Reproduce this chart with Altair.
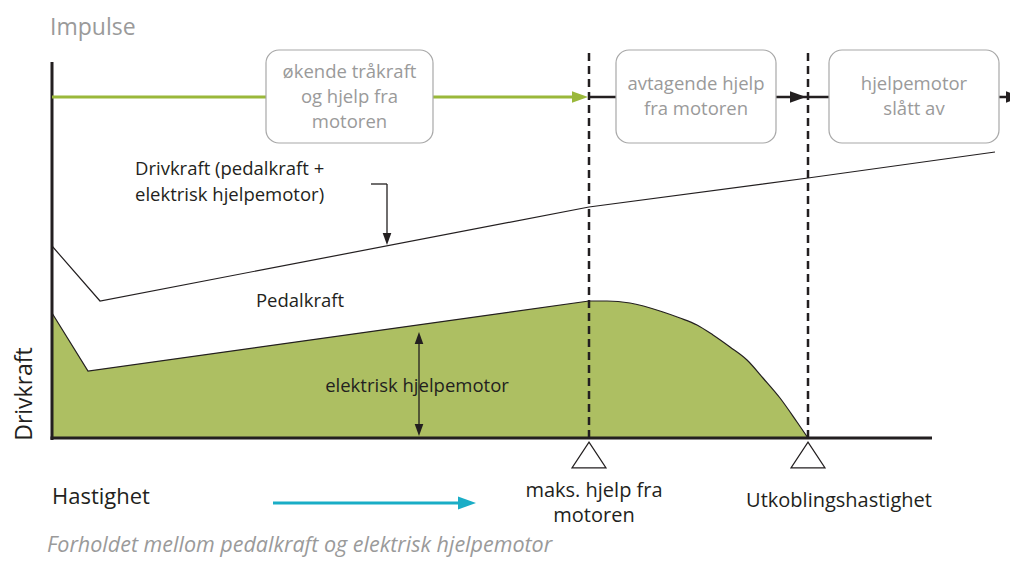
import altair as alt
import pandas as pd
import math

# ---------------- data (diagram units: speed along x, drive force along y) ----------------
# Total drive force (pedal force + electric assist motor)
drive_speed = [0, 48, 537, 756, 943]
drive_force = [192, 137, 231, 260, 286]

# Pedal force boundary = top of the electric assist share (green area)
pedal_speed_lin = [0, 36, 537]
pedal_force_lin = [125, 67, 137]
pedal_speed_curve = [537, 555, 578, 611, 628, 645, 661, 678, 695, 711, 728, 745, 756]
pedal_force_curve = [137, 137, 135, 126, 120, 113, 103, 91, 78, 60, 40, 16, 0]

# Key speeds: max motor assist, cut-off speed
key_speeds = [537, 756]
key_labels = [["maks. hjelp fra", "motoren"], ["Utkoblingshastighet"]]

# Impulse phases
phase_labels = [
    ["økende tråkraft", "og hjelp fra", "motoren"],
    ["avtagende hjelp", "fra motoren"],
    ["hjelpemotor", "slått av"],
]
phase_x = [(214, 381), (564, 724), (777, 947)]

# ---------------- styling ----------------
W, H = 1002, 549
XD = [-44, W - 44]
YD = [-119, 430]
FONT = "Open Sans"
BLACK = "#231f20"
GRAY = "#9a9a9a"
GREEN_FILL = "#adbf62"
GREEN_LINE = "#9ab83a"
CYAN = "#1aadc6"

def X(f="x"):
    return alt.X(f"{f}:Q", scale=alt.Scale(domain=XD, nice=False, zero=False), axis=None)

def Y(f="y"):
    return alt.Y(f"{f}:Q", scale=alt.Scale(domain=YD, nice=False, zero=False), axis=None)

layers = []

# green area (electric assist share)
lin_df = pd.DataFrame({"x": pedal_speed_lin, "y": pedal_force_lin})
cur_df = pd.DataFrame({"x": pedal_speed_curve, "y": pedal_force_curve})
layers.append(alt.Chart(lin_df).mark_area(color=GREEN_FILL, opacity=1).encode(
    x=X(), y=Y(), y2=alt.datum(0)))
layers.append(alt.Chart(cur_df).mark_area(color=GREEN_FILL, opacity=1, interpolate="monotone").encode(
    x=X(), y=Y(), y2=alt.datum(0)))
layers.append(alt.Chart(lin_df).mark_line(color=BLACK, strokeWidth=1.2).encode(x=X(), y=Y()))
layers.append(alt.Chart(cur_df).mark_line(color=BLACK, strokeWidth=1.2, interpolate="monotone").encode(
    x=X(), y=Y()))

# total drive force line
drive_df = pd.DataFrame({"x": drive_speed, "y": drive_force})
layers.append(alt.Chart(drive_df).mark_line(color=BLACK, strokeWidth=1.2).encode(x=X(), y=Y()))

# segments
IMP_Y = 341
segs = pd.DataFrame([
    # axes
    dict(x1=0, y1=-2, x2=0, y2=376, c=BLACK, w=3),
    dict(x1=-1.5, y1=0, x2=880, y2=0, c=BLACK, w=3),
    # impulse line
    dict(x1=0, y1=IMP_Y, x2=520, y2=IMP_Y, c=GREEN_LINE, w=3),
    dict(x1=key_speeds[0], y1=IMP_Y, x2=966, y2=IMP_Y, c=BLACK, w=2.5),
    # leader arrow for drive force
    dict(x1=319, y1=254, x2=335, y2=254, c=BLACK, w=1.3),
    dict(x1=335, y1=254, x2=335, y2=200, c=BLACK, w=1.3),
    # double arrow for electric assist
    dict(x1=367, y1=100, x2=367, y2=8, c=BLACK, w=1.3),
    # speed arrow
    dict(x1=221, y1=-65, x2=412, y2=-65, c=CYAN, w=3),
])
layers.append(alt.Chart(segs).mark_rule().encode(
    x=X("x1"), y=Y("y1"), x2="x2:Q", y2="y2:Q",
    color=alt.Color("c:N", scale=None),
    strokeWidth=alt.StrokeWidth("w:Q", scale=None)))

# dashed lines at key speeds
dash_df = pd.DataFrame({"x": key_speeds, "y1": [0, 0], "y2": [388, 388]})
layers.append(alt.Chart(dash_df).mark_rule(color=BLACK, strokeWidth=2.5, strokeDash=[8, 5]).encode(
    x=X(), y=Y("y1"), y2="y2:Q"))

# arrowheads (tip positions, direction angle, half length, color)
HEAD = "M0,-1L0.72,1L-0.72,1Z"
heads = [
    dict(tx=536, ty=IMP_Y, a=90, s=8, c=GREEN_LINE),
    dict(tx=754, ty=IMP_Y, a=90, s=8, c=BLACK),
    dict(tx=970, ty=IMP_Y, a=90, s=8, c=BLACK),
    dict(tx=335, ty=193, a=180, s=6, c=BLACK),
    dict(tx=367, ty=106, a=0, s=6, c=BLACK),
    dict(tx=367, ty=2, a=180, s=6, c=BLACK),
    dict(tx=424, ty=-65, a=90, s=9, c=CYAN),
]
rows = []
for h in heads:
    rad = math.radians(h["a"])
    dx, dy = math.sin(rad), math.cos(rad)
    rows.append(dict(x=h["tx"] - dx * h["s"], y=h["ty"] - dy * h["s"],
                     a=h["a"], size=(2 * h["s"]) ** 2, c=h["c"]))
heads_df = pd.DataFrame(rows)
layers.append(alt.Chart(heads_df).mark_point(shape=HEAD, filled=True, opacity=1).encode(
    x=X(), y=Y(), angle=alt.Angle("a:Q", scale=None),
    size=alt.Size("size:Q", scale=None), color=alt.Color("c:N", scale=None)))

# triangles under the axis at key speeds
tri_df = pd.DataFrame({"x": key_speeds, "y": [-17, -17]})
layers.append(alt.Chart(tri_df).mark_point(
    shape="M0,-0.76L1,0.76L-1,0.76Z", size=1156, filled=True, fill="white",
    stroke=BLACK, strokeWidth=1.2, opacity=1).encode(x=X(), y=Y()))

# phase boxes
box_df = pd.DataFrame({"x1": [p[0] for p in phase_x], "x2": [p[1] for p in phase_x],
                       "y1": [295] * 3, "y2": [388] * 3})
layers.append(alt.Chart(box_df).mark_rect(fill="white", stroke="#a8a8a8", strokeWidth=1.2,
                                          cornerRadius=13).encode(
    x=X("x1"), x2="x2:Q", y=Y("y1"), y2="y2:Q"))

# phase texts
ptxt = []
for (a, b), lines in zip(phase_x, phase_labels):
    n = len(lines)
    cy = 341.5
    for i, t in enumerate(lines):
        ptxt.append(dict(x=(a + b) / 2, y=cy + (n - 1) / 2 * 25 - i * 25, t=t))
layers.append(alt.Chart(pd.DataFrame(ptxt)).mark_text(
    font=FONT, fontSize=18.5, color=GRAY, baseline="middle", align="center").encode(
    x=X(), y=Y(), text="t:N"))

# key speed labels
ktxt = []
for sx, lines in zip(key_speeds, key_labels):
    if len(lines) == 2:
        ktxt += [dict(x=sx + 5, y=-53, t=lines[0]), dict(x=sx + 5, y=-78, t=lines[1])]
    else:
        ktxt.append(dict(x=sx + 31, y=-63, t=lines[0]))
layers.append(alt.Chart(pd.DataFrame(ktxt)).mark_text(
    font=FONT, fontSize=20, color=BLACK, baseline="middle", align="center").encode(
    x=X(), y=Y(), text="t:N"))

# black annotation labels
ann = pd.DataFrame([
    dict(x=83, y=269, t="Drivkraft (pedalkraft +", al="left", fs=18.5),
    dict(x=83, y=243, t="elektrisk hjelpemotor)", al="left", fs=18.5),
    dict(x=248, y=137, t="Pedalkraft", al="center", fs=18.5),
    dict(x=365, y=52, t="elektrisk hjelpemotor", al="center", fs=18.5),
    dict(x=0, y=-59, t="Hastighet", al="left", fs=22),
])
for al in ["left", "center"]:
    sub = ann[ann.al == al]
    for fs in sorted(sub.fs.unique()):
        s2 = sub[sub.fs == fs]
        layers.append(alt.Chart(s2).mark_text(
            font=FONT, fontSize=float(fs), color=BLACK, baseline="middle", align=al).encode(
            x=X(), y=Y(), text="t:N"))

# y-axis title
layers.append(alt.Chart(pd.DataFrame([dict(x=-27, y=44, t="Drivkraft")])).mark_text(
    font=FONT, fontSize=23, color=BLACK, baseline="middle", align="center", angle=270).encode(
    x=X(), y=Y(), text="t:N"))

# gray title and footer
layers.append(alt.Chart(pd.DataFrame([dict(x=-2, y=410, t="Impulse")])).mark_text(
    font=FONT, fontSize=23, color=GRAY, baseline="middle", align="left").encode(
    x=X(), y=Y(), text="t:N"))
layers.append(alt.Chart(pd.DataFrame([dict(x=-5, y=-108, t="Forholdet mellom pedalkraft og elektrisk hjelpemotor")])).mark_text(
    font=FONT, fontSize=21.5, color=GRAY, fontStyle="italic", baseline="middle", align="left").encode(
    x=X(), y=Y(), text="t:N"))

chart = alt.layer(*layers).properties(
    width=W, height=H, padding=0, autosize=alt.AutoSizeParams(type="none"),
    background="white"
).configure_view(stroke=None)

chart.save("out.html", embed_options={"renderer": "svg", "actions": False})
